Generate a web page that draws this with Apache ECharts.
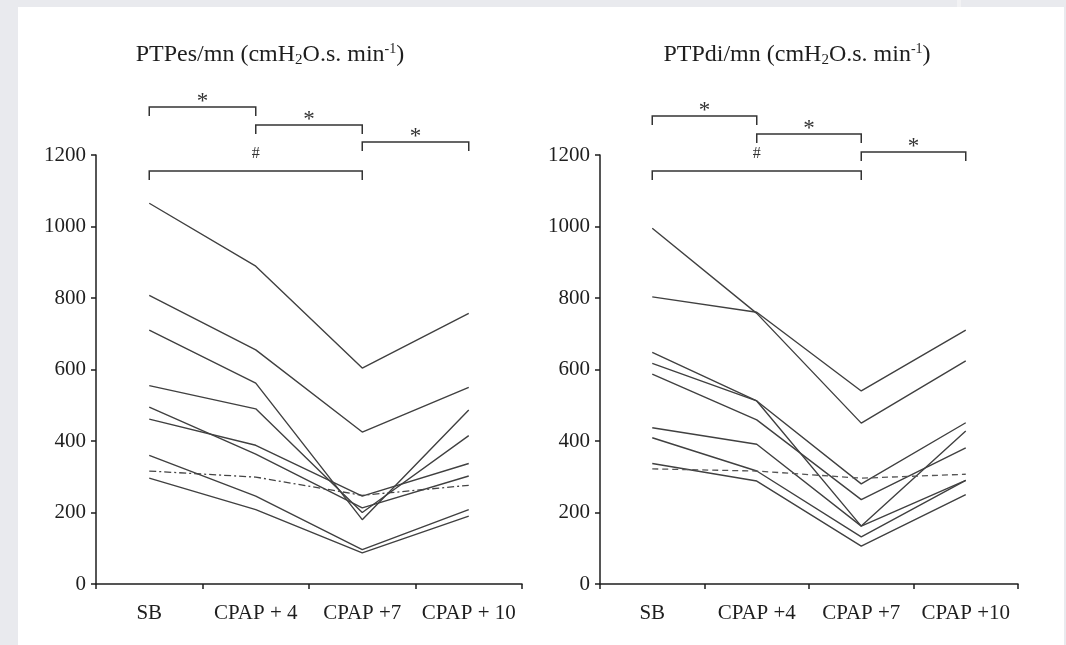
<!DOCTYPE html>
<html><head><meta charset="utf-8">
<script src="https://cdn.jsdelivr.net/npm/echarts@6/dist/echarts.min.js"></script>
<style>
html,body{margin:0;padding:0;background:#e9eaee;width:1066px;height:645px;overflow:hidden}
#panel{position:absolute;left:18px;top:7px;width:1046px;height:638px;background:#fff}
#strip{position:absolute;left:957px;top:0;width:4px;height:7px;background:#f2f2f4}
#chart{position:absolute;left:0;top:0;width:1066px;height:645px}
</style></head><body>
<div id="panel"></div><div id="strip"></div>
<div id="chart"></div>
<script>
// ---- data ----
const categoriesLeft = ['SB', 'CPAP + 4', 'CPAP +7', 'CPAP + 10'];
const categoriesRight = ['SB', 'CPAP +4', 'CPAP +7', 'CPAP +10'];
const yTickValues = [0, 200, 400, 600, 800, 1000, 1200];

// PTPes/mn, individual subjects
const pesS1 = [1065, 889, 604, 757];
const pesS2 = [807, 655, 425, 550];
const pesS3 = [710, 562, 180, 487];
const pesS4 = [555, 490, 200, 415];
const pesS5 = [495, 363, 213, 302];
const pesS6 = [461, 388, 246, 337];
const pesS7 = [360, 246, 96, 208];
const pesS8 = [296, 208, 87, 190];
const pesMean = [316, 299, 248, 276];

// PTPdi/mn, individual subjects
const diS1 = [995, 757, 450, 624];
const diS2 = [803, 760, 540, 710];
const diS3 = [648, 512, 280, 451];
const diS4 = [617, 512, 162, 428];
const diS5 = [587, 459, 236, 381];
const diS6 = [437, 391, 162, 290];
const diS7 = [409, 316, 132, 290];
const diS8 = [337, 288, 106, 250];
const diMean = [322, 316, 296, 307];

// significance brackets: [fromIndex, toIndex, label]
const bracketsLeft = [[0, 1, '*'], [1, 2, '*'], [2, 3, '*'], [0, 2, '#']];
const bracketsRight = [[0, 1, '*'], [1, 2, '*'], [2, 3, '*'], [0, 2, '#']];

// ---- chart ----
const SERIF = '"Liberation Serif","DejaVu Serif",serif';
const INK = '#1e1e1e';
const LINE = '#404040';

function yAxis(gi) {
  return {
    type: 'value', gridIndex: gi, min: 0, max: 1200, interval: 200,
    axisLine: { show: true, lineStyle: { color: INK, width: 1.5 } },
    axisTick: { show: true, length: 5, lineStyle: { color: INK, width: 1.5 } },
    axisLabel: { color: INK, fontFamily: SERIF, fontSize: 21, margin: 10,
      customValues: yTickValues, formatter: v => String(v) },
    splitLine: { show: false }
  };
}
function xAxis(gi, cats) {
  return {
    type: 'category', gridIndex: gi, data: cats, boundaryGap: true,
    axisLine: { show: true, lineStyle: { color: INK, width: 1.5 } },
    axisTick: { show: true, length: 5, lineStyle: { color: INK, width: 1.5 } },
    axisLabel: { color: INK, fontFamily: SERIF, fontSize: 21, margin: 19, interval: 0 },
    splitLine: { show: false }
  };
}
function subj(gi, data) {
  return { type: 'line', xAxisIndex: gi, yAxisIndex: gi, data: data, symbol: 'none',
    lineStyle: { color: LINE, width: 1.4 }, silent: true };
}
const seriesList = [];
[pesS1, pesS2, pesS3, pesS4, pesS5, pesS6, pesS7, pesS8].forEach(d => seriesList.push(subj(0, d)));
seriesList.push({ type: 'line', xAxisIndex: 0, yAxisIndex: 0, data: pesMean, symbol: 'none',
  lineStyle: { color: '#444', width: 1.3, type: [7, 3, 2, 3] }, silent: true });
[diS1, diS2, diS3, diS4, diS5, diS6, diS7, diS8].forEach(d => seriesList.push(subj(1, d)));
seriesList.push({ type: 'line', xAxisIndex: 1, yAxisIndex: 1, data: diMean, symbol: 'none',
  lineStyle: { color: '#555', width: 1.3, type: [6, 4] }, silent: true });

const titleRich = {
  b: { fontFamily: SERIF, fontSize: 24, fontWeight: 'normal', color: INK },
  sub: { fontFamily: SERIF, fontSize: 15, fontWeight: 'normal', color: INK, padding: [12, 0, 0, 0] },
  sup: { fontFamily: SERIF, fontSize: 14, fontWeight: 'normal', color: INK, padding: [0, 0, 11, 0] }
};
function titleText(name) {
  return '{b|' + name + ' (cmH}{sub|2}{b|O.s. min}{sup|-1}{b|)}';
}

const chart = echarts.init(document.getElementById('chart'), null, { renderer: 'canvas' });
chart.setOption({
  animation: false,
  backgroundColor: 'transparent',
  title: [
    { text: titleText('PTPes/mn'), left: 265, top: 36, textAlign: 'center',
      textStyle: { fontWeight: 'normal', rich: titleRich } },
    { text: titleText('PTPdi/mn'), left: 792, top: 36, textAlign: 'center',
      textStyle: { fontWeight: 'normal', rich: titleRich } }
  ],
  grid: [
    { left: 96, top: 155, width: 426, height: 429 },
    { left: 600, top: 155, width: 418, height: 429 }
  ],
  xAxis: [xAxis(0, categoriesLeft), xAxis(1, categoriesRight)],
  yAxis: [yAxis(0), yAxis(1)],
  series: seriesList
});

// brackets drawn from the axes' own scales
const levelOffsets = [[-48, -30, -13, 16], [-39, -21, -3, 16]];
const graphics = [];
[bracketsLeft, bracketsRight].forEach((list, gi) => {
  const topY = chart.convertToPixel({ gridIndex: gi }, [0, 1200])[1];
  list.forEach((b, k) => {
    const x1 = chart.convertToPixel({ gridIndex: gi }, [b[0], 0])[0];
    const x2 = chart.convertToPixel({ gridIndex: gi }, [b[1], 0])[0];
    const y = topY + levelOffsets[gi][k];
    graphics.push({ type: 'polyline', silent: true,
      shape: { points: [[x1, y + 9], [x1, y], [x2, y], [x2, y + 9]] },
      style: { stroke: '#333', lineWidth: 1.5, fill: null } });
    const isHash = b[2] === '#';
    graphics.push({ type: 'text', silent: true,
      x: (x1 + x2) / 2, y: isHash ? y - 17 : y - 5,
      style: { text: b[2], fontFamily: SERIF, fontSize: isHash ? 16 : 23, fill: '#333',
        align: 'center', verticalAlign: 'middle' } });
  });
});
chart.setOption({ graphic: graphics });
</script>
</body></html>
